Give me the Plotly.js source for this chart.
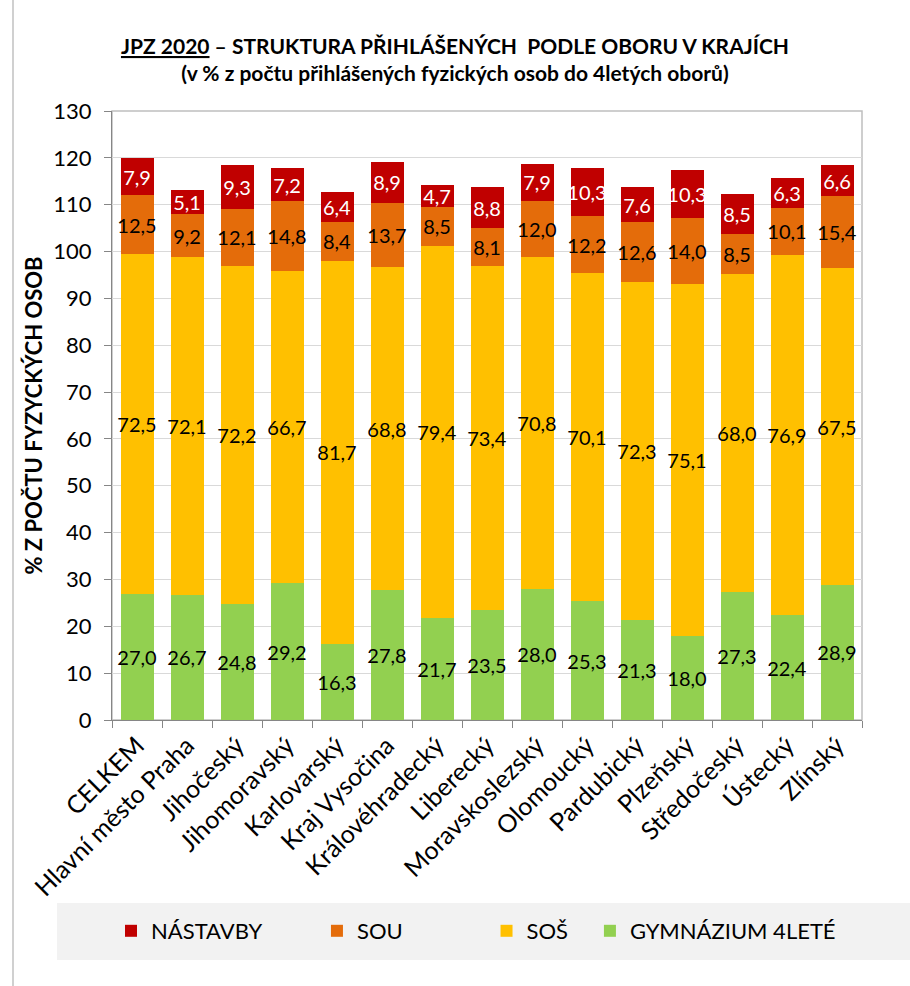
<!DOCTYPE html>
<html>
<head>
<meta charset="utf-8">
<script src="https://cdn.plot.ly/plotly-3.0.1.min.js"></script>
<style>html,body{margin:0;padding:0;background:#fff;}#chart{width:910px;height:986px;}</style>
</head>
<body>
<div id="chart"></div>
<script>
// ---- data ----
const categories = ["CELKEM","Hlavní město Praha","Jihočeský","Jihomoravský","Karlovarský","Kraj Vysočina","Královéhradecký","Liberecký","Moravskoslezský","Olomoucký","Pardubický","Plzeňský","Středočeský","Ústecký","Zlínský"];
const gymnazium = [27.0,26.7,24.8,29.2,16.3,27.8,21.7,23.5,28.0,25.3,21.3,18.0,27.3,22.4,28.9];
const sos       = [72.5,72.1,72.2,66.7,81.7,68.8,79.4,73.4,70.8,70.1,72.3,75.1,68.0,76.9,67.5];
const sou       = [12.5,9.2,12.1,14.8,8.4,13.7,8.5,8.1,12.0,12.2,12.6,14.0,8.5,10.1,15.4];
const nastavby  = [7.9,5.1,9.3,7.2,6.4,8.9,4.7,8.8,7.9,10.3,7.6,10.3,8.5,6.3,6.6];
const seriesNames = ["GYMNÁZIUM 4LETÉ","SOŠ","SOU","NÁSTAVBY"];
const yTicks = [0,10,20,30,40,50,60,70,80,90,100,110,120,130];

// ---- layout helpers ----
const W = 910, H = 986;
const M = {l:112, r:48, t:111, b:266};
const PW = W - M.l - M.r, PH = H - M.t - M.b;
const px2x = p => (p - M.l) / PW;
const px2y = p => (H - M.b - p) / PH;
const fmt = v => v.toFixed(1).replace('.', ',');
const FONT = "Lato, 'Open Sans', sans-serif";
const pad = n => '\u00A0'.repeat(n);

const colors = ["#92D050","#FFC000","#E46C0A","#C00000"];
const textColors = ["#000","#000","#000","#fff"];
const values = [gymnazium, sos, sou, nastavby];
const pads = [0, 3, 14, 9];

const traces = values.map((vals, i) => ({
  type: 'bar',
  name: seriesNames[i] + pad(pads[i]),
  x: categories,
  y: vals,
  text: vals.map(fmt),
  textposition: 'inside',
  insidetextanchor: 'middle',
  textangle: 0,
  constraintext: 'none',
  textfont: {family: FONT, size: 20, color: textColors[i]},
  marker: {color: colors[i], line: {width: 0}},
  hoverinfo: 'skip'
}));

const layout = {
  width: W, height: H,
  margin: M,
  paper_bgcolor: '#fff',
  plot_bgcolor: '#fff',
  barmode: 'stack',
  bargap: 0.34,
  font: {family: FONT, color: '#000'},
  title: {
    text: "<b><u>JPZ 2020</u> – STRUKTURA PŘIHLÁŠENÝCH  PODLE OBORU V KRAJÍCH</b><br><b>(v % z počtu přihlášených fyzických osob do 4letých oborů)</b>",
    font: {family: FONT, size: 21, color: '#000'},
    x: 0.5, xref: 'container', xanchor: 'center',
    y: 1 - 54/H, yref: 'container', yanchor: 'top'
  },
  xaxis: {
    type: 'category',
    tickangle: -45,
    tickfont: {family: FONT, size: 25},
    ticks: 'outside', tickson: 'boundaries', ticklen: 7, tickcolor: '#868686',
    showline: true, linecolor: '#868686', linewidth: 1,
    showgrid: false
  },
  yaxis: {
    range: [0, 130],
    tickvals: yTicks,
    ticktext: yTicks.map(String),
    tickfont: {family: FONT, size: 22},
    ticks: 'outside', ticklen: 7, tickcolor: '#868686',
    ticklabelstandoff: 8,
    showline: true, linecolor: '#868686', linewidth: 1,
    showgrid: true, gridcolor: '#D9D9D9', gridwidth: 1,
    zeroline: false,
    title: {text: "<b>% Z POČTU FYZYCKÝCH OSOB</b>", font: {family: FONT, size: 22}, standoff: 4}
  },
  legend: {
    orientation: 'h',
    traceorder: 'reversed',
    x: px2x(476), xanchor: 'center',
    y: px2y(931), yanchor: 'middle',
    bgcolor: 'rgba(0,0,0,0)',
    font: {family: FONT, size: 22}
  },
  shapes: [
    {type: 'rect', xref: 'paper', yref: 'paper', x0: px2x(57), x1: px2x(910), y0: px2y(960), y1: px2y(903),
     fillcolor: '#F2F2F2', line: {width: 0}, layer: 'below'},
    {type: 'rect', xref: 'paper', yref: 'paper', x0: 0, x1: 1, y0: 0, y1: 1,
     fillcolor: 'rgba(0,0,0,0)', line: {color: '#BFBFBF', width: 1.5}, layer: 'below'},
    {type: 'line', xref: 'paper', yref: 'paper', x0: px2x(13), x1: px2x(13), y0: px2y(986), y1: px2y(0),
     line: {color: '#D0D0D0', width: 2}}
  ],
  showlegend: true
};

Plotly.newPlot('chart', traces, layout, {displayModeBar: false, staticPlot: true});
</script>
</body>
</html>
